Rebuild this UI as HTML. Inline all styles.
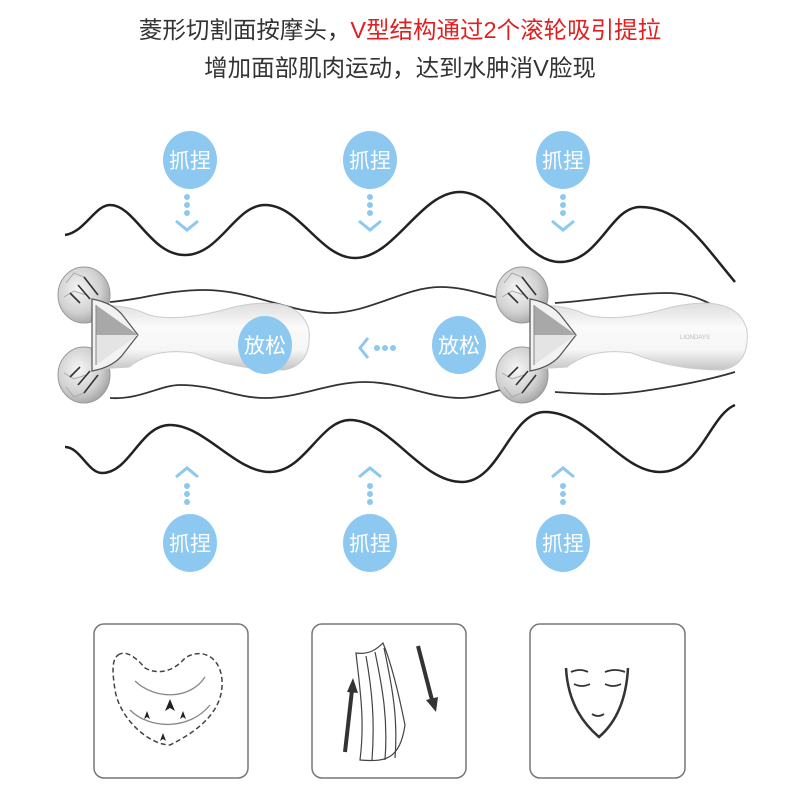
<!DOCTYPE html>
<html><head><meta charset="utf-8"><style>
body{margin:0;background:#fff;width:800px;height:800px;overflow:hidden}
svg{display:block}
</style></head><body>
<svg width="800" height="800" viewBox="0 0 800 800" xmlns="http://www.w3.org/2000/svg" font-family="Liberation Sans, Noto Sans CJK SC, sans-serif">
<defs>
<linearGradient id="bd" x1="0" y1="0" x2="0" y2="1">
<stop offset="0" stop-color="#dedede"/><stop offset="0.35" stop-color="#fafafa"/><stop offset="0.7" stop-color="#f6f6f6"/><stop offset="1" stop-color="#c4c4c4"/></linearGradient>
<radialGradient id="hd" cx="0.4" cy="0.4" r="0.7"><stop offset="0" stop-color="#f6f6f6"/><stop offset="0.6" stop-color="#d0d0d0"/><stop offset="1" stop-color="#999"/></radialGradient>
<g id="roller">
<ellipse cx="0" cy="-40" rx="26" ry="28" fill="url(#hd)" stroke="#999" stroke-width="1"/>
<ellipse cx="0" cy="40" rx="26" ry="28" fill="url(#hd)" stroke="#999" stroke-width="1"/>
<path d="M-18,-52 l8,-10 l10,4 l8,10 M-20,-38 l10,-6 l12,4 M-18,52 l8,10 l10,-4 l8,-10 M-20,38 l10,6 l12,-4" stroke="#aaa" stroke-width="1" fill="none"/>
<path d="M-6,-50 l12,14 M0,-58 l14,18 M-14,-42 l10,10 M-6,50 l12,-14 M0,58 l14,-18 M-14,42 l10,-10" stroke="#333" stroke-width="1.6"/>
<path d="M14,-30 Q45,-30 65,-20 Q95,-12 150,-28 Q215,-42 225,-5 Q228,30 200,35 Q150,35 110,18 Q70,12 45,32 L14,34 Z" fill="url(#bd)" stroke="#ccc" stroke-width="1"/>
<path d="M8,-36 Q30,-32 40,-18 L54,0 L40,18 Q30,32 8,36 Z" fill="#f2f2f2" stroke="#555" stroke-width="1.2"/>
<path d="M12,-30 L54,0 L12,0 Z" fill="#a8a8a8"/>
<path d="M12,0 L54,0 L12,30 Z" fill="#e4e4e4"/>
<path d="M12,-30 L12,30" stroke="#888"/>
</g>
</defs>
<text x="400" y="38" font-size="23.5" text-anchor="middle" fill="#333">菱形切割面按摩头，<tspan fill="#e02020">V型结构通过2个滚轮吸引提拉</tspan></text>
<text x="400" y="76" font-size="23.5" text-anchor="middle" fill="#333">增加面部肌肉运动，达到水肿消V脸现</text>

<g fill="none" stroke="#222" stroke-width="2.5">
<path d="M65,235 C85,232 95,205 110,205 C135,205 150,255 185,255 C220,255 235,205 265,205 C300,205 320,258 355,258 C395,258 420,192 460,192 C500,192 520,262 560,262 C600,262 610,207 640,207 C680,207 700,240 735,282"/>
<path d="M65,447 C80,447 88,473 102,473 C130,473 140,425 170,425 C205,425 235,472 270,472 C305,472 320,420 350,420 C390,420 420,482 462,482 C500,482 510,412 545,412 C590,412 620,472 660,472 C700,472 710,415 735,405"/>
</g>
<g fill="none" stroke="#333" stroke-width="1.8">
<path d="M110,302 C140,300 165,290 205,290 C250,290 290,313 330,313 C370,313 405,287 440,287 C470,287 490,298 510,300"/>
<path d="M110,398 C140,400 160,385 180,385 C215,385 235,398 265,398 C300,398 330,382 365,382 C400,382 430,398 460,398 C480,398 495,390 510,388"/>
<path d="M555,303 C600,300 630,293 667,293 C695,293 715,305 735,320"/>
<path d="M555,392 C600,395 620,395 650,390 C690,384 715,378 735,372"/>
</g>
<use href="#roller" x="84" y="335"/>
<use href="#roller" x="522" y="335"/>
<text x="680" y="339" font-size="6" fill="#bbb">LIONDAYS</text>

<g fill="#8cc8f0">
<ellipse cx="190" cy="160" rx="27" ry="29"/><ellipse cx="370" cy="160" rx="27" ry="29"/><ellipse cx="563" cy="160" rx="27" ry="29"/>
<ellipse cx="190" cy="543" rx="27" ry="29"/><ellipse cx="370" cy="543" rx="27" ry="29"/><ellipse cx="563" cy="543" rx="27" ry="29"/>
<ellipse cx="265" cy="345" rx="27" ry="29"/><ellipse cx="459" cy="345" rx="27" ry="29"/>
<circle cx="187" cy="197" r="3"/><circle cx="187" cy="205" r="3"/><circle cx="187" cy="213" r="3"/>
<circle cx="370" cy="197" r="3"/><circle cx="370" cy="205" r="3"/><circle cx="370" cy="213" r="3"/>
<circle cx="563" cy="197" r="3"/><circle cx="563" cy="205" r="3"/><circle cx="563" cy="213" r="3"/>
<circle cx="187" cy="486" r="3"/><circle cx="187" cy="494" r="3"/><circle cx="187" cy="502" r="3"/>
<circle cx="370" cy="486" r="3"/><circle cx="370" cy="494" r="3"/><circle cx="370" cy="502" r="3"/>
<circle cx="563" cy="486" r="3"/><circle cx="563" cy="494" r="3"/><circle cx="563" cy="502" r="3"/>
<circle cx="377" cy="348" r="3"/><circle cx="385" cy="348" r="3"/><circle cx="393" cy="348" r="3"/>
</g>
<g fill="none" stroke="#8cc8f0" stroke-width="3">
<path d="M176,221 l11,9 l11,-9"/><path d="M359,221 l11,9 l11,-9"/><path d="M552,221 l11,9 l11,-9"/>
<path d="M176,477 l11,-9 l11,9"/><path d="M359,477 l11,-9 l11,9"/><path d="M552,477 l11,-9 l11,9"/>
<path d="M368,338 l-8,10 l8,10"/>
</g>
<g fill="#fff" font-size="21" text-anchor="middle">
<text x="190" y="168">抓捏</text><text x="370" y="168">抓捏</text><text x="563" y="168">抓捏</text>
<text x="190" y="551">抓捏</text><text x="370" y="551">抓捏</text><text x="563" y="551">抓捏</text>
<text x="265" y="353">放松</text><text x="459" y="353">放松</text>
</g>

<g fill="none" stroke="#777" stroke-width="1.5">
<rect x="94" y="624" width="154" height="154" rx="10"/>
<rect x="312" y="624" width="154" height="154" rx="10"/>
<rect x="530" y="624" width="155" height="154" rx="10"/>
</g>
<g fill="none" stroke="#444" stroke-width="1.5" stroke-dasharray="5,3">
<path d="M118,655 C125,650 135,656 145,668 C160,676 175,670 185,658 C200,648 220,655 222,680 C224,710 200,730 170,745 C150,745 120,720 115,690 C112,670 112,660 118,655 Z"/>
</g>
<g fill="none" stroke="#888" stroke-width="1.3">
<path d="M135,681 C155,700 190,700 205,677"/>
<path d="M130,710 C150,730 190,730 210,705"/>
</g>
<g fill="#222">
<path d="M170,699 l-5,12 l5,-3 l5,3 z"/><path d="M147,711 l-3,8 l3,-2 l3,2 z"/><path d="M163,733 l-3,8 l3,-2 l3,2 z"/><path d="M183,711 l-3,8 l3,-2 l3,2 z"/>
</g>
<g fill="none" stroke="#444" stroke-width="1.2">
<path d="M356,653 C370,655 378,648 383,643 C392,665 400,700 405,725 C400,760 385,762 360,760 C365,720 360,690 356,653 Z"/>
<path d="M366,656 C372,690 375,720 372,760 M375,652 C383,690 388,720 385,760 M384,648 C393,690 398,720 395,758"/>
</g>
<g stroke="#333" stroke-width="4" fill="none">
<path d="M345,752 L352,690"/>
<path d="M418,646 L432,700"/>
</g>
<g fill="#333">
<path d="M347,692 l6,-14 l5,15 z"/>
<path d="M426,700 l10,12 l2,-15 z"/>
</g>
<g fill="none" stroke="#333" stroke-width="2.5">
<path d="M566,668 C568,705 585,725 599,737 C613,725 626,705 628,668"/>
</g>
<g fill="none" stroke="#333" stroke-width="1.8">
<path d="M571,672 Q580,668 588,672 M605,672 Q615,668 625,672"/>
<path d="M574,684 Q582,688 590,684 M605,684 Q613,688 621,684"/>
<path d="M592,714 Q598,718 604,714"/>
</g>
</svg>
</body></html>
